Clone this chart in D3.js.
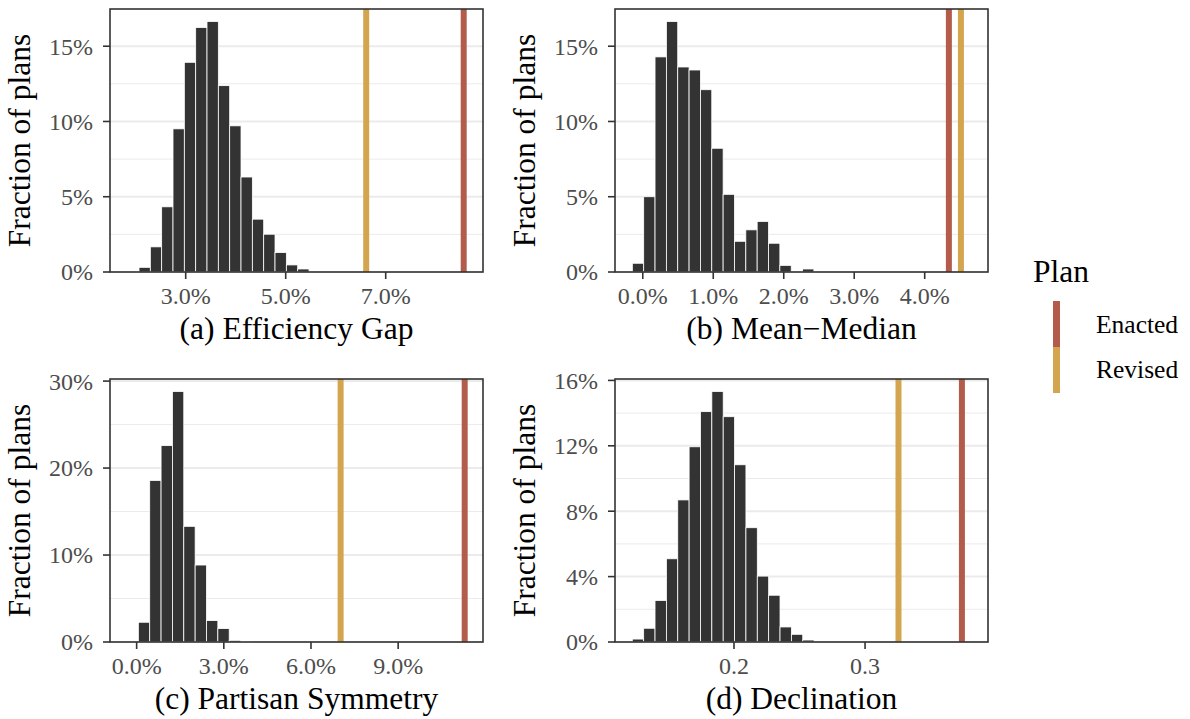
<!doctype html>
<html lang="en">
<head>
	<meta charset="UTF-8">
	<title>Plan metrics</title>
	<style>
		body {
			margin: 0;
			background: #fff;
		}
		svg text {
			font-family: "Liberation Serif", "Times New Roman", serif;
		}
		.tick-label {
			fill: #4d4d4d;
			font-size: 24px;
		}
		.axis-title {
			fill: #000;
			font-size: 31.5px;
		}
	</style>
</head>
<body>
	<script src="https://cdn.jsdelivr.net/npm/d3@7"></script>
	<script>
		// histogram bars, percent of plans per bin
		var egFrac = [0.31, 1.67, 4.33, 9.51, 13.93, 16.24, 16.64, 12.38, 9.71, 6.31, 3.51, 2.51, 1.29, 0.47, 0.2];
		var mmFrac = [0.58, 5.0, 14.29, 16.64, 13.62, 13.42, 12.11, 8.22, 5.16, 2.04, 2.8, 3.36, 1.91, 0.44, 0, 0.2];
		var psFrac = [2.27, 18.58, 22.58, 28.8, 13.3, 8.85, 2.46, 1.54, 0.19, 0.05];
		var decFrac = [0.18, 0.84, 2.54, 5.09, 8.69, 11.94, 14.09, 15.32, 13.78, 10.84, 6.99, 4.03, 2.86, 0.92, 0.47, 0.12];

		// first bin edge and bin width (x units of each metric)
		var binStarts = [2.066, -0.148, 0.059, 0.1224];
		var binWidths = [0.2267, 0.161, 0.3908, 0.00867];

		// plan values
		var planNames = ['Enacted', 'Revised'];
		var planColors = ['#b45c4c', '#d4a54f'];
		var enactedVals = [8.56, 4.343, 11.29, 0.3739];
		var revisedVals = [6.61, 4.514, 7.02, 0.3255];

		var metricTitles = ['(a) Efficiency Gap', '(b) Mean\u2212Median', '(c) Partisan Symmetry', '(d) Declination'];
		var xDomains = [[1.486, 8.946], [-0.394, 4.898], [-0.917, 11.92], [0.1092, 0.3938]];
		var xTicks = [[3, 5, 7], [0, 1, 2, 3, 4], [0, 3, 6, 9], [0.2, 0.3]];
		var yTicks = [[0, 5, 10, 15], [0, 5, 10, 15], [0, 10, 20, 30], [0, 4, 8, 12, 16]];

		var w = 1190,
			h = 719;

		var svg = d3.select('body')
			.append('svg')
			.attr('width', w)
			.attr('height', h);

		// panel boxes
		var cols = [110, 615],
			rows = [9, 379],
			pw = 373,
			ph = 263;

		var allFrac = [egFrac, mmFrac, psFrac, decFrac];

		var fmtX = function(i, d) {
			return i === 3 ? d3.format('.1f')(d) : d3.format('.1f')(d) + '%';
		};

		var drawPanel = function(i) {
			var left = cols[i % 2],
				top = rows[Math.floor(i / 2)];
			var frac = allFrac[i];

			var g = svg.append('g')
				.attr('transform', 'translate(' + left + ',' + top + ')');

			var x = d3.scaleLinear()
				.domain(xDomains[i])
				.range([0, pw]);

			var y = d3.scaleLinear()
				.domain([0, d3.max(frac) * 1.05])
				.range([ph, 0]);

			// minor grid lines
			var yt = yTicks[i];
			var step = yt[1] - yt[0];
			var minor = yt.map(function(d) { return d + step / 2; })
				.filter(function(d) { return d < y.domain()[1]; });

			g.selectAll('.minor')
				.data(minor)
				.enter()
				.append('line')
				.attr('x1', 0)
				.attr('x2', pw)
				.attr('y1', function(d) { return y(d); })
				.attr('y2', function(d) { return y(d); })
				.attr('stroke', '#ebebeb')
				.attr('stroke-width', 1);

			g.selectAll('.major')
				.data(yt)
				.enter()
				.append('line')
				.attr('x1', 0)
				.attr('x2', pw)
				.attr('y1', function(d) { return y(d); })
				.attr('y2', function(d) { return y(d); })
				.attr('stroke', '#ebebeb')
				.attr('stroke-width', 2);

			// bars
			g.selectAll('rect.bar')
				.data(frac)
				.enter()
				.append('rect')
				.attr('class', 'bar')
				.attr('x', function(d, j) { return x(binStarts[i] + j * binWidths[i]); })
				.attr('width', function(d, j) {
					return x(binStarts[i] + (j + 1) * binWidths[i]) - x(binStarts[i] + j * binWidths[i]);
				})
				.attr('y', function(d) { return y(d); })
				.attr('height', function(d) { return ph - y(d); })
				.attr('fill', '#333333')
				.attr('stroke', '#ffffff')
				.attr('stroke-width', 0.8);

			// plan lines
			var plans = [enactedVals[i], revisedVals[i]];
			g.selectAll('line.plan')
				.data(plans)
				.enter()
				.append('line')
				.attr('class', 'plan')
				.attr('x1', function(d) { return x(d); })
				.attr('x2', function(d) { return x(d); })
				.attr('y1', 0)
				.attr('y2', ph)
				.attr('stroke', function(d, j) { return planColors[j]; })
				.attr('stroke-width', 6);

			// border
			g.append('rect')
				.attr('width', pw)
				.attr('height', ph)
				.attr('fill', 'none')
				.attr('stroke', '#333333')
				.attr('stroke-width', 1.6);

			// y ticks
			g.selectAll('.ytick')
				.data(yt)
				.enter()
				.append('line')
				.attr('x1', -7)
				.attr('x2', 0)
				.attr('y1', function(d) { return y(d); })
				.attr('y2', function(d) { return y(d); })
				.attr('stroke', '#333333')
				.attr('stroke-width', 1.6);

			g.selectAll('.ylab')
				.data(yt)
				.enter()
				.append('text')
				.attr('class', 'tick-label')
				.attr('x', -17)
				.attr('y', function(d) { return y(d); })
				.attr('dy', '0.35em')
				.attr('text-anchor', 'end')
				.text(function(d) { return d + '%'; });

			// x ticks
			g.selectAll('.xtick')
				.data(xTicks[i])
				.enter()
				.append('line')
				.attr('x1', function(d) { return x(d); })
				.attr('x2', function(d) { return x(d); })
				.attr('y1', ph)
				.attr('y2', ph + 7)
				.attr('stroke', '#333333')
				.attr('stroke-width', 1.6);

			g.selectAll('.xlab')
				.data(xTicks[i])
				.enter()
				.append('text')
				.attr('class', 'tick-label')
				.attr('x', function(d) { return x(d); })
				.attr('y', ph + 32)
				.attr('text-anchor', 'middle')
				.text(function(d) { return fmtX(i, d); });

			// titles
			g.append('text')
				.attr('class', 'axis-title')
				.attr('x', pw / 2)
				.attr('y', ph + 67)
				.attr('text-anchor', 'middle')
				.text(metricTitles[i]);

			g.append('text')
				.attr('class', 'axis-title')
				.attr('transform', 'translate(-80,' + (ph / 2) + ') rotate(-90)')
				.attr('text-anchor', 'middle')
				.text('Fraction of plans');
		};

		for (var i = 0; i < 4; i++) {
			drawPanel(i);
		}

		// legend
		var legend = svg.append('g')
			.attr('transform', 'translate(1033,0)');

		legend.append('text')
			.attr('x', 0)
			.attr('y', 282)
			.style('font-size', '31.5px')
			.text('Plan');

		legend.selectAll('rect.key')
			.data(planNames)
			.enter()
			.append('rect')
			.attr('class', 'key')
			.attr('x', 20)
			.attr('y', function(d, j) { return 301 + j * 46; })
			.attr('width', 7)
			.attr('height', 46)
			.attr('fill', function(d, j) { return planColors[j]; });

		legend.selectAll('text.key')
			.data(planNames)
			.enter()
			.append('text')
			.attr('class', 'key')
			.attr('x', 63)
			.attr('y', function(d, j) { return 333 + j * 45; })
			.style('font-size', '25.5px')
			.text(function(d) { return d; });
	</script>
</body>
</html>
